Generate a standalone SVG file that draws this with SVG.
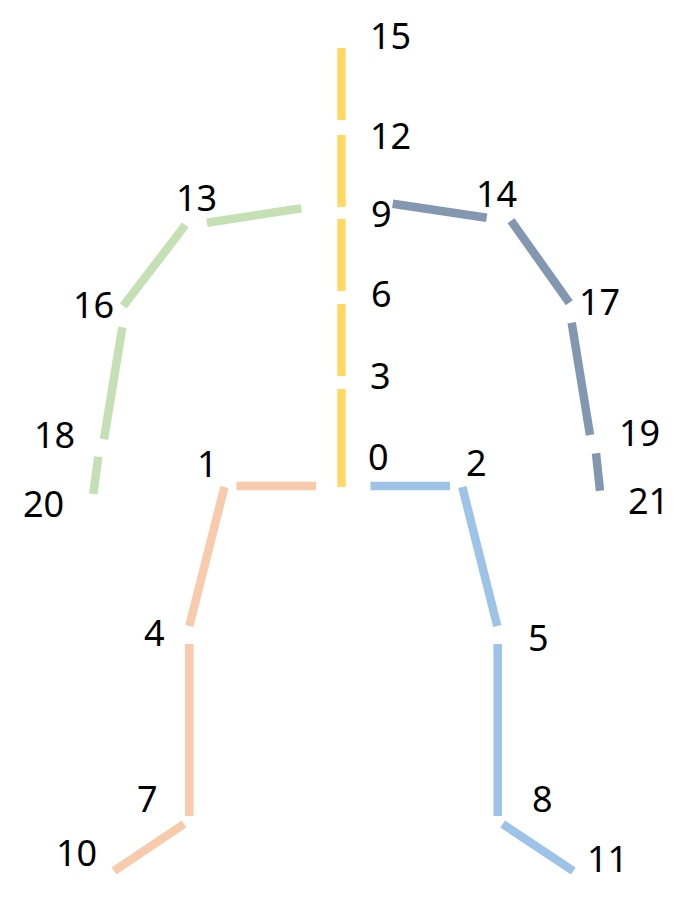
<svg xmlns="http://www.w3.org/2000/svg" width="693" height="904" viewBox="0 0 693 904">
<style>
.b{stroke-width:8.5;stroke-linecap:butt;fill:none}
.y{stroke:#FFD966}
.o{stroke:#F8CBAD}
.bl{stroke:#9DC3E6}
.g{stroke:#C5E0B4}
.gr{stroke:#8497B0}
text{font-family:"Noto Sans","Open Sans","DejaVu Sans",sans-serif;font-size:36px;fill:#000}
</style>
<rect width="693" height="904" fill="#fff"/>
<g id="connectors">
<line class="b y" x1="341.5" y1="487" x2="341.5" y2="389"/>
<line class="b y" x1="341.5" y1="376" x2="341.5" y2="304"/>
<line class="b y" x1="341.5" y1="291" x2="341.5" y2="219"/>
<line class="b y" x1="341.5" y1="207" x2="341.5" y2="135"/>
<line class="b y" x1="341.5" y1="120" x2="341.5" y2="48"/>
<line class="b o" x1="316" y1="486" x2="236.5" y2="486"/>
<line class="b o" x1="224.5" y1="487" x2="189.3" y2="626"/>
<line class="b o" x1="189.3" y1="644" x2="189.3" y2="816"/>
<line class="b o" x1="184" y1="824" x2="114" y2="871"/>
<line class="b bl" x1="370.5" y1="486" x2="450" y2="486"/>
<line class="b bl" x1="462.3" y1="487" x2="497.3" y2="626"/>
<line class="b bl" x1="497.7" y1="644" x2="497.7" y2="816"/>
<line class="b bl" x1="502.7" y1="824" x2="573.3" y2="871"/>
<line class="b g" x1="301.3" y1="208.3" x2="207" y2="222.7"/>
<line class="b g" x1="185.3" y1="225" x2="123.3" y2="306"/>
<line class="b g" x1="122.3" y1="327.3" x2="104" y2="439.3"/>
<line class="b g" x1="98.3" y1="456.7" x2="93.3" y2="494"/>
<line class="b gr" x1="392.7" y1="203.7" x2="486.7" y2="217.7"/>
<line class="b gr" x1="511" y1="220.7" x2="569.3" y2="302.7"/>
<line class="b gr" x1="571.7" y1="322.7" x2="590" y2="435"/>
<line class="b gr" x1="596" y1="453.3" x2="600" y2="490.7"/>
</g>
<g id="n0"><text x="368" y="470">0</text></g>
<g id="n1"><text x="197" y="477">1</text></g>
<g id="n2"><text x="466" y="476">2</text></g>
<g id="n3"><text x="370" y="389">3</text></g>
<g id="n4"><text x="144" y="646">4</text></g>
<g id="n5"><text x="528" y="651">5</text></g>
<g id="n6"><text x="371" y="307">6</text></g>
<g id="n7"><text x="137" y="812">7</text></g>
<g id="n8"><text x="532" y="812">8</text></g>
<g id="n9"><text x="371" y="227">9</text></g>
<g id="n10"><text x="56" y="866">10</text></g>
<g id="n11"><text x="587" y="872">11</text></g>
<g id="n12"><text x="370" y="149">12</text></g>
<g id="n13"><text x="176" y="211">13</text></g>
<g id="n14"><text x="476" y="207">14</text></g>
<g id="n15"><text x="370" y="49">15</text></g>
<g id="n16"><text x="73" y="318">16</text></g>
<g id="n17"><text x="579" y="315">17</text></g>
<g id="n18"><text x="34" y="448">18</text></g>
<g id="n19"><text x="619" y="446">19</text></g>
<g id="n20"><text x="23" y="517">20</text></g>
<g id="n21"><text x="628" y="514">21</text></g>
</svg>
